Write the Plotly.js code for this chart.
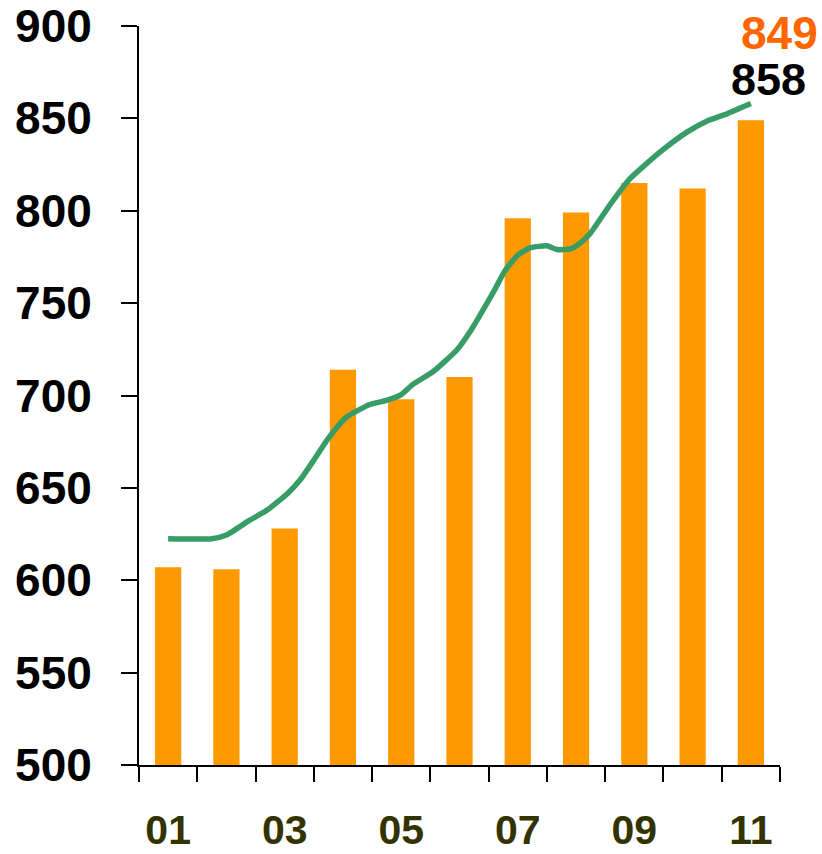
<!DOCTYPE html>
<html>
<head>
<meta charset="utf-8">
<script src="https://cdn.plot.ly/plotly-3.0.1.min.js"></script>
<style>html,body{margin:0;padding:0;background:#fff;}#chart{width:822px;height:854px;}</style>
</head>
<body>
<div id="chart"></div>
<script>
// Categories (months) and tick labels
const months = [1, 2, 3, 4, 5, 6, 7, 8, 9, 10, 11];
const tickLabels = ['01', '', '03', '', '05', '', '07', '', '09', '', '11'];
// Bar values
const barValues = [607, 606, 628, 714, 698, 710, 796, 799, 815, 812, 849];
// Smoothed trend line (x in month units, y values)
const lineX = [1.0, 1.75, 2.0, 2.4, 2.7, 3.05, 3.27, 3.5, 3.73, 4.05, 4.45, 4.76, 5.0, 5.2, 5.55, 5.95, 6.2, 6.38, 6.6, 6.77, 7.0, 7.22, 7.5, 7.67, 7.9, 8.07, 8.25, 8.6, 8.93, 9.45, 9.91, 10.25, 10.6, 11.0];
const lineY = [622.5, 622.5, 624.5, 632.5, 638, 647, 654.5, 665, 676, 688, 695, 697.5, 700.5, 706, 713, 724.5, 735.5, 745, 757, 767, 776, 780, 781, 779, 779.3, 782.5, 788, 804, 817.5, 832, 842.7, 848.6, 852.6, 858];
const lastBar = barValues[barValues.length - 1];
const lastLine = lineY[lineY.length - 1];

const FONT = 'Arial, "Liberation Sans", Helvetica, sans-serif';

const traces = [
  {
    type: 'bar', x: months, y: barValues, width: 0.45,
    marker: {color: '#ff9900', line: {width: 0}},
    hoverinfo: 'skip', showlegend: false
  },
  {
    type: 'scatter', mode: 'lines', x: lineX, y: lineY,
    line: {color: '#379c66', width: 5.5, shape: 'spline', smoothing: 0.5},
    hoverinfo: 'skip', showlegend: false
  }
];

const layout = {
  width: 822, height: 854,
  margin: {l: 139, r: 42, t: 26, b: 89},
  paper_bgcolor: '#ffffff', plot_bgcolor: '#ffffff',
  showlegend: false,
  xaxis: {
    type: 'linear', range: [0.5, 11.5],
    tickvals: months, ticktext: tickLabels,
    ticks: '', showgrid: false, zeroline: false,
    showline: true, linecolor: '#000', linewidth: 2,
    tickfont: {family: FONT, size: 41, color: '#333300', weight: 'bold'},
    ticklabelstandoff: 28,
    minor: {tick0: 0.5, dtick: 1, ticks: 'outside', ticklen: 15, tickwidth: 2, tickcolor: '#000', showgrid: false}
  },
  yaxis: {
    range: [500, 900], dtick: 50, tick0: 500,
    ticks: 'outside', ticklen: 16, tickwidth: 2, tickcolor: '#000',
    showgrid: false, zeroline: false,
    showline: true, linecolor: '#000', linewidth: 2,
    tickfont: {family: FONT, size: 46, color: '#000', weight: 'bold'},
    ticklabelstandoff: 20
  },
  annotations: [
    {xref: 'x', yref: 'paper', x: months[10], y: 0.99, xshift: 29, text: String(lastBar),
     showarrow: false, font: {family: FONT, size: 46, color: '#ff6600', weight: 'bold'}, xanchor: 'center', yanchor: 'middle'},
    {xref: 'x', yref: 'paper', x: months[10], y: 0.928, xshift: 18, text: String(lastLine),
     showarrow: false, font: {family: FONT, size: 45, color: '#000', weight: 'bold'}, xanchor: 'center', yanchor: 'middle'}
  ]
};

Plotly.newPlot('chart', traces, layout, {staticPlot: true, displayModeBar: false});
</script>
</body>
</html>
